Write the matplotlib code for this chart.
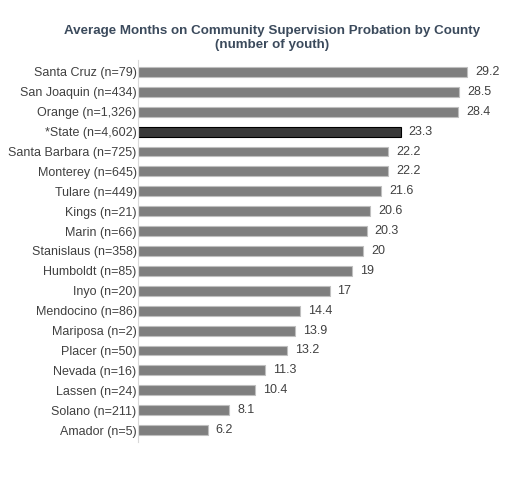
import matplotlib.pyplot as plt

counties = ["Santa Cruz (n=79)", "San Joaquin (n=434)", "Orange (n=1,326)", "*State (n=4,602)",
            "Santa Barbara (n=725)", "Monterey (n=645)", "Tulare (n=449)", "Kings (n=21)",
            "Marin (n=66)", "Stanislaus (n=358)", "Humboldt (n=85)", "Inyo (n=20)",
            "Mendocino (n=86)", "Mariposa (n=2)", "Placer (n=50)", "Nevada (n=16)",
            "Lassen (n=24)", "Solano (n=211)", "Amador (n=5)"]
months = [29.2, 28.5, 28.4, 23.3, 22.2, 22.2, 21.6, 20.6, 20.3, 20, 19, 17,
          14.4, 13.9, 13.2, 11.3, 10.4, 8.1, 6.2]
value_labels = ["29.2", "28.5", "28.4", "23.3", "22.2", "22.2", "21.6", "20.6", "20.3", "20",
                "19", "17", "14.4", "13.9", "13.2", "11.3", "10.4", "8.1", "6.2"]

plt.rcParams['font.family'] = ['Liberation Sans', 'DejaVu Sans']

fig = plt.figure(figsize=(5.12, 5.04), dpi=100)
ax = fig.add_axes([138/512, 62/504, 1 - 138/512 - 2/512, 1 - 62/504 - 60/504])

ypos = list(range(len(counties)))
colors = ['#3a3a3a' if c.startswith('*State') else '#7f7f7f' for c in counties]
edges = ['#000000' if c.startswith('*State') else '#bfbfbf' for c in counties]
ax.barh(ypos, months, height=0.5, color=colors, edgecolor=edges, linewidth=0.8)

for y, v, lab in zip(ypos, months, value_labels):
    ax.text(v + 0.7, y, lab, va='center', ha='left', fontsize=9, color='#404040')

ax.set_yticks(ypos)
ax.set_yticklabels(counties, fontsize=9, color='#404040')
ax.tick_params(axis='y', length=0, pad=1)
ax.set_xticks([])
ax.set_xlim(0, 33)
ax.set_ylim(len(counties) - 0.4, -0.6)
for s in ['top', 'right', 'bottom']:
    ax.spines[s].set_visible(False)
ax.spines['left'].set_color('#d9d9d9')

fig.text(272/512, 1 - 38/504, "Average Months on Community Supervision Probation by County\n(number of youth)",
         ha='center', va='center', fontsize=9.6, fontweight='bold', color='#3b4a5c',
         linespacing=1.15, fontstretch='condensed',
         family=['Liberation Sans Narrow', 'Liberation Sans', 'DejaVu Sans'])

fig.savefig('out.png', dpi=100)
